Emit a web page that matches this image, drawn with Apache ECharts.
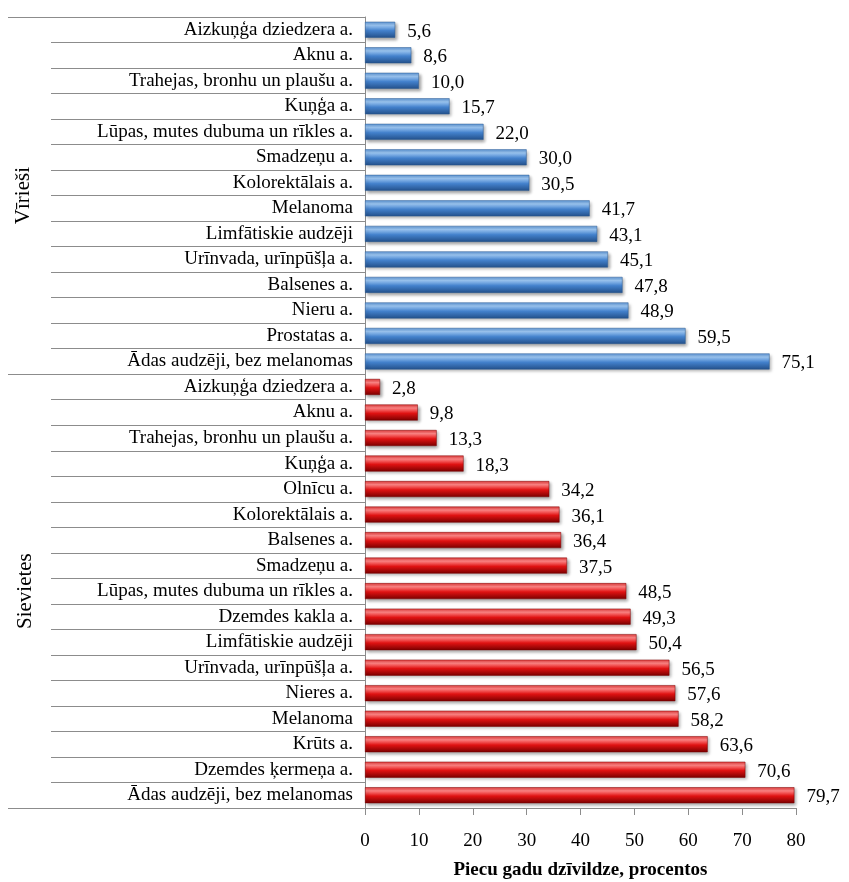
<!DOCTYPE html>
<html>
<head>
<meta charset="utf-8">
<script src="https://cdn.jsdelivr.net/npm/echarts@6/dist/echarts.min.js"></script>
<style>
  html, body { margin: 0; padding: 0; background: #fff; }
  #chart { width: 849px; height: 882px; }
</style>
</head>
<body>
<div id="chart"></div>
<script>
// Five-year survival by cancer site, men and women
const groupNames = ['Vīrieši', 'Sievietes'];

const maleCats = [
  'Aizkuņģa dziedzera a.', 'Aknu a.', 'Trahejas, bronhu un plaušu a.', 'Kuņģa a.',
  'Lūpas, mutes dubuma un rīkles a.', 'Smadzeņu a.', 'Kolorektālais a.', 'Melanoma',
  'Limfātiskie audzēji', 'Urīnvada, urīnpūšļa a.', 'Balsenes a.', 'Nieru a.',
  'Prostatas a.', 'Ādas audzēji, bez melanomas'
];
const maleVals = [5.6, 8.6, 10.0, 15.7, 22.0, 30.0, 30.5, 41.7, 43.1, 45.1, 47.8, 48.9, 59.5, 75.1];

const femaleCats = [
  'Aizkuņģa dziedzera a.', 'Aknu a.', 'Trahejas, bronhu un plaušu a.', 'Kuņģa a.',
  'Olnīcu a.', 'Kolorektālais a.', 'Balsenes a.', 'Smadzeņu a.',
  'Lūpas, mutes dubuma un rīkles a.', 'Dzemdes kakla a.', 'Limfātiskie audzēji',
  'Urīnvada, urīnpūšļa a.', 'Nieres a.', 'Melanoma', 'Krūts a.',
  'Dzemdes ķermeņa a.', 'Ādas audzēji, bez melanomas'
];
const femaleVals = [2.8, 9.8, 13.3, 18.3, 34.2, 36.1, 36.4, 37.5, 48.5, 49.3, 50.4, 56.5, 57.6, 58.2, 63.6, 70.6, 79.7];

const xTicks = { min: 0, max: 80, interval: 10 };
const xTitle = 'Piecu gadu dzīvildze, procentos';

// Category keys are made unique per group; labels show the plain name
const keys = maleCats.map((c, i) => 'm' + i + '|' + c).concat(femaleCats.map((c, i) => 'f' + i + '|' + c));
const nM = maleCats.length;
const maleData = keys.map((k, i) => i < nM ? maleVals[i] : null);
const femaleData = keys.map((k, i) => i >= nM ? femaleVals[i - nM] : null);

const serif = '"Liberation Serif", "DejaVu Serif", serif';
const grey = '#8c8c8c';

function grad(top, hi, mid, bot) {
  return new echarts.graphic.LinearGradient(0, 0, 0, 1, [
    { offset: 0, color: top },
    { offset: 0.22, color: hi },
    { offset: 0.55, color: mid },
    { offset: 1, color: bot }
  ]);
}
const blueFill = grad('#5f97d6', '#9cc6f2', '#4381cc', '#23508a');
const redFill = grad('#e43a3a', '#ff8585', '#e01212', '#7a0000');

const valueLabel = {
  show: true,
  position: 'right',
  distance: 12,
  offset: [0, 2],
  fontFamily: serif,
  fontSize: 19,
  color: '#000',
  formatter: p => p.value == null ? '' : p.value.toFixed(1).replace('.', ',')
};

const chart = echarts.init(document.getElementById('chart'));
chart.setOption({
  animation: false,
  grid: { left: 365, right: 53, top: 17, bottom: 74, containLabel: false, outerBoundsMode: 'none' },
  xAxis: {
    type: 'value',
    min: xTicks.min, max: xTicks.max, interval: xTicks.interval,
    axisLine: { show: true, lineStyle: { color: grey, width: 1 } },
    axisTick: { show: true, length: 7, lineStyle: { color: grey } },
    splitLine: { show: false },
    axisLabel: { fontFamily: serif, fontSize: 19, color: '#000', margin: 24 },
    name: xTitle,
    nameLocation: 'middle',
    nameGap: 53,
    nameTextStyle: { fontFamily: serif, fontSize: 19, fontWeight: 'bold', color: '#000' }
  },
  yAxis: {
    type: 'category',
    inverse: true,
    data: keys,
    axisLine: { show: true, lineStyle: { color: grey, width: 1 } },
    axisTick: { show: true, length: 314, lineStyle: { color: grey, width: 1 } },
    axisLabel: {
      fontFamily: serif, fontSize: 19, color: '#000', margin: 12,
      formatter: v => v.split('|')[1]
    }
  },
  series: [
    {
      name: groupNames[0], type: 'bar', data: maleData,
      barWidth: 16, barGap: '-100%',
      itemStyle: { color: blueFill, borderColor: '#2b5a92', borderWidth: 0.5,
        shadowBlur: 3, shadowColor: 'rgba(0,0,0,0.35)', shadowOffsetX: 2, shadowOffsetY: 2 },
      label: valueLabel
    },
    {
      name: groupNames[1], type: 'bar', data: femaleData,
      barWidth: 16, barGap: '-100%',
      itemStyle: { color: redFill, borderColor: '#7d0000', borderWidth: 0.5,
        shadowBlur: 3, shadowColor: 'rgba(0,0,0,0.35)', shadowOffsetX: 2, shadowOffsetY: 2 },
      label: valueLabel
    }
  ]
});

// Group dividers and rotated group names, placed from the category scale
const c0 = chart.convertToPixel({ yAxisIndex: 0 }, keys[0]);
const c1 = chart.convertToPixel({ yAxisIndex: 0 }, keys[1]);
const band = c1 - c0;
const topY = c0 - band / 2;
const splitY = chart.convertToPixel({ yAxisIndex: 0 }, keys[nM]) - band / 2;
const botY = chart.convertToPixel({ yAxisIndex: 0 }, keys[keys.length - 1]) + band / 2;
const axisX = chart.convertToPixel({ xAxisIndex: 0 }, 0);
const longLeft = 8;

function hLine(y) {
  return { type: 'line', shape: { x1: longLeft, y1: y, x2: axisX, y2: y },
    style: { stroke: grey, lineWidth: 1 }, silent: true };
}
function groupText(name, x, y) {
  return { type: 'text', x: x, y: y, rotation: Math.PI / 2,
    style: { text: name, font: '21px ' + serif, fill: '#000', align: 'center', verticalAlign: 'middle' },
    silent: true };
}
chart.setOption({
  graphic: [
    hLine(Math.round(topY) + 0.5),
    hLine(Math.round(splitY) + 0.5),
    hLine(Math.round(botY) + 0.5),
    groupText(groupNames[0], 23, (topY + splitY) / 2),
    groupText(groupNames[1], 25, (splitY + botY) / 2)
  ]
});
</script>
</body>
</html>
